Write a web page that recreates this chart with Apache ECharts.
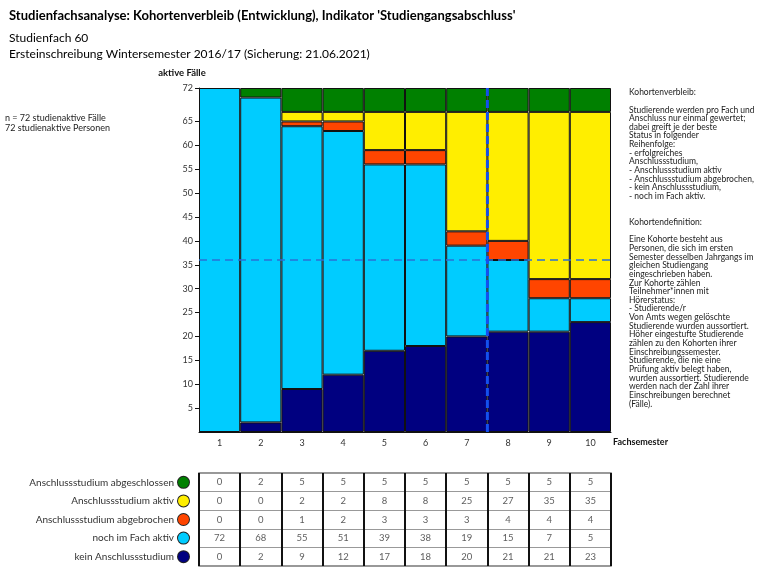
<!DOCTYPE html>
<html>
<head>
<meta charset="utf-8">
<script src="https://cdn.jsdelivr.net/npm/echarts@6/dist/echarts.min.js"></script>
<style>html,body{margin:0;padding:0;background:#fff}#c{width:768px;height:578px}</style>
</head>
<body>
<div id="c"></div>
<script>
const categories = ['1','2','3','4','5','6','7','8','9','10'];
const seriesNames = ['Anschlussstudium abgeschlossen','Anschlussstudium aktiv','Anschlussstudium abgebrochen','noch im Fach aktiv','kein Anschlussstudium'];
const abgeschlossen = [0,2,5,5,5,5,5,5,5,5];
const aktiv = [0,0,2,2,8,8,25,27,35,35];
const abgebrochen = [0,0,1,2,3,3,3,4,4,4];
const nochAktiv = [72,68,55,51,39,38,19,15,7,5];
const kein = [0,2,9,12,17,18,20,21,21,23];
const yTicks = [5,10,15,20,25,30,35,40,45,50,55,60,65,72];
const yMax = 72;
const halfLine = 36;
const markSemester = 7.5;
const colors = ['#008000','#FFEE00','#FF4500','#00CCFF','#000080'];

const font = 'Lato, "Noto Sans", sans-serif';
const rows = [abgeschlossen, aktiv, abgebrochen, nochAktiv, kein];

const tableData = [];
rows.forEach((arr, r) => arr.forEach((v, c) => tableData.push([c, r, v])));

const barOrder = [4,3,2,1,0]; // bottom to top
const barSeries = barOrder.map(i => ({
  name: seriesNames[i],
  type: 'bar',
  stack: 'total',
  xAxisIndex: 0, yAxisIndex: 0,
  barCategoryGap: '0%',
  barWidth: '100%',
  data: rows[i].map(v => v === 0 ? null : v),
  itemStyle: {color: colors[i], borderColor: '#111', borderWidth: 1},
  emphasis: {disabled: true}
}));

const rich = {t: {fontSize: 10, color: '#333', fontFamily: font, padding: [0,4,0,0]}};
colors.forEach((c, i) => {
  rich['c' + i] = {width: 11, height: 11, borderRadius: 6, backgroundColor: c, borderColor: '#222', borderWidth: 1};
});

const rightText = [
'Kohortenverbleib:','',
'Studierende werden pro Fach und',
'Anschluss nur einmal gewertet;',
'dabei greift je der beste',
'Status in folgender',
'Reihenfolge:',
'- erfolgreiches',
'Anschlussstudium,',
'- Anschlussstudium aktiv',
'- Anschlussstudium abgebrochen,',
'- kein Anschlussstudium,',
'- noch im Fach aktiv.','','',
'Kohortendefinition:','',
'Eine Kohorte besteht aus',
'Personen, die sich im ersten',
'Semester desselben Jahrgangs im',
'gleichen Studiengang',
'eingeschrieben haben.',
'Zur Kohorte zählen',
'Teilnehmer*innen mit',
'Hörerstatus:',
'- Studierende/r',
'Von Amts wegen gelöschte',
'Studierende wurden aussortiert.',
'Höher eingestufte Studierende',
'zählen zu den Kohorten ihrer',
'Einschreibungssemester.',
'Studierende, die nie eine',
'Prüfung aktiv belegt haben,',
'wurden aussortiert. Studierende',
'werden nach der Zahl ihrer',
'Einschreibungen berechnet',
'(Fälle).'
].join('\n');

const chart = echarts.init(document.getElementById('c'));
chart.setOption({
  animation: false,
  textStyle: {fontFamily: font},
  title: [
    {text: "Studienfachsanalyse: Kohortenverbleib (Entwicklung), Indikator 'Studiengangsabschluss'",
     left: 4, top: 4, textStyle: {fontSize: 13, fontWeight: 'bold', color: '#000', fontFamily: font}},
    {text: 'Studienfach 60\nErsteinschreibung Wintersemester 2016/17 (Sicherung: 21.06.2021)',
     left: 4, top: 25, textStyle: {fontSize: 12, fontWeight: 'normal', color: '#000', lineHeight: 16, fontFamily: font}}
  ],
  graphic: [
    {type: 'text', left: 5, top: 113, style: {text: 'n = 72 studienaktive Fälle\n72 studienaktive Personen', fontSize: 9, lineHeight: 10, fill: '#222', fontFamily: font}},
    {type: 'text', left: 629, top: 88, style: {text: rightText, fontSize: 8.5, lineHeight: 8.65, fill: '#222', fontFamily: font}}
  ],
  grid: [
    {left: 199, right: 157, top: 88, bottom: 146},
    {left: 199, right: 157, top: 473, height: 93, show: true, borderColor: '#777', borderWidth: 1.5}
  ],
  xAxis: [
    {type: 'category', gridIndex: 0, data: categories, boundaryGap: true,
     name: 'Fachsemester', nameLocation: 'end', nameGap: 2,
     nameTextStyle: {fontWeight: 'bold', fontSize: 9, color: '#111', verticalAlign: 'top', padding: [6,0,0,0]},
     axisLine: {show: true, lineStyle: {color: '#111'}}, axisTick: {show: false},
     axisLabel: {fontSize: 9, color: '#333', margin: 7}},
    {type: 'value', gridIndex: 0, min: 0.5, max: 10.5, show: false},
    {type: 'category', gridIndex: 1, data: categories, boundaryGap: true,
     axisLine: {show: false}, axisTick: {show: false}, axisLabel: {show: false},
     splitLine: {show: true, interval: 0, lineStyle: {color: '#111', width: 2}}}
  ],
  yAxis: [
    {type: 'value', gridIndex: 0, min: 0, max: yMax,
     name: 'aktive Fälle', nameLocation: 'end', nameGap: 10,
     nameTextStyle: {fontWeight: 'bold', fontSize: 9.5, color: '#111', align: 'center', padding: [0, 34, 0, 0]},
     axisLine: {show: true, lineStyle: {color: '#111'}},
     axisTick: {show: true, length: 4, customValues: yTicks, lineStyle: {color: '#111'}},
     axisLabel: {fontSize: 9, color: '#333', margin: 6, customValues: yTicks},
     splitLine: {show: false}},
    {type: 'category', gridIndex: 1, data: seriesNames, inverse: true,
     axisLine: {show: false}, axisTick: {show: false},
     axisLabel: {margin: 10, formatter: (v, i) => '{t|' + v + '}{c' + i + '|}', rich: rich},
     splitLine: {show: true, interval: 0, lineStyle: {color: '#999', width: 1}}}
  ],
  series: barSeries.concat([
    {type: 'line', xAxisIndex: 1, yAxisIndex: 0, data: [[0.5, halfLine],[10.5, halfLine]],
     symbol: 'none', z: 10, lineStyle: {color: '#2a70d6', width: 1.6, type: [8,5]}},
    {type: 'line', xAxisIndex: 1, yAxisIndex: 0, data: [[markSemester, 0],[markSemester, yMax]],
     symbol: 'none', z: 10, lineStyle: {color: '#1450ee', width: 3, type: [8,4]}},
    {type: 'scatter', xAxisIndex: 2, yAxisIndex: 1, data: tableData, symbolSize: 1,
     itemStyle: {color: 'rgba(0,0,0,0)'}, z: 20,
     label: {show: true, position: 'inside', formatter: p => String(p.value[2]), fontSize: 9.5, color: '#333', fontFamily: font}}
  ])
});
</script>
</body>
</html>
